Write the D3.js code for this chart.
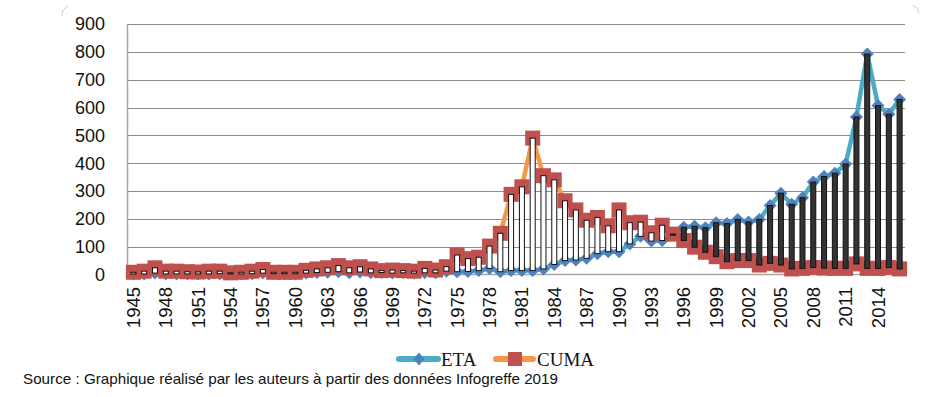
<!DOCTYPE html>
<html>
<head>
<meta charset="utf-8">
<script src="https://cdn.jsdelivr.net/npm/d3@7"></script>
<style>
  body { margin: 0; background: #fff; }
  text { font-family: "Liberation Sans", Arial, sans-serif; }
  text.serif { font-family: "Liberation Serif", "Times New Roman", serif; }
</style>
</head>
<body>
<div id="chart"></div>
<script>
// years 1945 .. 2016
const years = d3.range(1945, 2017)

const eta = [2, 2, 5, 2, 2, 2, 2, 2, 3, 2, 2, 3, 5, 3, 3, 3,
  5, 7, 8, 10, 6, 9, 6, 7, 5, 6, 5, 6, 6, 12,
  10, 11, 14, 22, 10, 14, 14, 14, 20, 36, 50, 52, 58, 75, 82, 82,
  110, 137, 120, 122, 142, 170, 173, 168, 186, 183, 198, 189, 198, 248,
  292, 252, 276, 332, 352, 364, 397, 566, 792, 607, 576, 629]

const cuma = [8, 12, 24, 12, 12, 10, 9, 12, 12, 6, 8, 12, 18, 8, 8, 8,
  15, 20, 24, 32, 24, 28, 20, 14, 16, 14, 12, 22, 16, 28,
  70, 57, 62, 102, 148, 288, 315, 490, 355, 340, 265, 232, 195, 205, 175, 232,
  186, 188, 150, 177, 145, 122, 98, 80, 64, 46, 50, 50, 34, 40,
  34, 20, 22, 25, 23, 22, 22, 38, 22, 22, 25, 20]

const yTicks = d3.range(0, 1000, 100)
const xLabels = years.filter((d, i) => i % 3 === 0)

const width = 935, height = 397

const svg = d3.select("#chart")
  .append("svg")
    .attr("width", width)
    .attr("height", height)

const x = d3.scaleBand()
  .domain(years)
  .range([128, 905])

const y = d3.scaleLinear()
  .domain([0, 900])
  .range([274.5, 24])

const cx = d => x(d) + x.bandwidth() / 2

// little rounded corners of the chart frame
svg.append("path")
  .attr("d", "M62,16 Q62,9 68,6")
  .attr("fill", "none").attr("stroke", "#ccc")
svg.append("path")
  .attr("d", "M913,5 Q918,7 919,13")
  .attr("fill", "none").attr("stroke", "#ccc")

// gridlines
svg.append("g")
  .selectAll("line")
  .data(yTicks.slice(1))
  .enter()
  .append("line")
    .attr("x1", 127).attr("x2", 905)
    .attr("y1", d => Math.round(y(d)) + 0.5)
    .attr("y2", d => Math.round(y(d)) + 0.5)
    .attr("stroke", "#8c8c8c")

// axes lines
svg.append("line")
  .attr("x1", 127.5).attr("x2", 127.5)
  .attr("y1", y(900)).attr("y2", y(0))
  .attr("stroke", "#a6a6a6").attr("stroke-width", 1.5)
svg.append("line")
  .attr("x1", 127).attr("x2", 905)
  .attr("y1", y(0)).attr("y2", y(0))
  .attr("stroke", "#a6a6a6").attr("stroke-width", 1.5)

// y labels
svg.append("g")
  .selectAll("text")
  .data(yTicks)
  .enter()
  .append("text")
    .attr("x", 105)
    .attr("y", d => y(d))
    .attr("dy", "0.36em")
    .attr("text-anchor", "end")
    .attr("font-size", 18)
    .attr("fill", "#111")
    .text(d => d)

// x labels
svg.append("g")
  .selectAll("text")
  .data(xLabels)
  .enter()
  .append("text")
    .attr("transform", d => "translate(" + (cx(d) + 6.5) + ",287) rotate(-90)")
    .attr("text-anchor", "end")
    .attr("font-size", 18.5)
    .attr("fill", "#111")
    .text(d => d)

const line = d3.line()
  .x((d, i) => cx(years[i]))
  .y(d => y(d))

// ETA series
svg.append("path")
  .datum(eta)
  .attr("d", line)
  .attr("fill", "none")
  .attr("stroke", "#4BACC6")
  .attr("stroke-width", 4.5)
  .attr("stroke-linejoin", "round")

svg.append("g")
  .selectAll("path")
  .data(eta)
  .enter()
  .append("path")
    .attr("transform", (d, i) => "translate(" + cx(years[i]) + "," + y(d) + ")")
    .attr("d", "M0,-6.5L6.5,0L0,6.5L-6.5,0Z")
    .attr("fill", "#4F81BD")

// CUMA series
svg.append("path")
  .datum(cuma)
  .attr("d", line)
  .attr("fill", "none")
  .attr("stroke", "#F79646")
  .attr("stroke-width", 4.5)
  .attr("stroke-linejoin", "round")

svg.append("g")
  .selectAll("rect")
  .data(cuma)
  .enter()
  .append("rect")
    .attr("x", (d, i) => cx(years[i]) - 7.5)
    .attr("y", d => y(d) - 7.5)
    .attr("width", 15)
    .attr("height", 15)
    .attr("fill", "#C0504D")

// up / down bars between ETA and CUMA
svg.append("g")
  .selectAll("rect")
  .data(years)
  .enter()
  .append("rect")
    .attr("x", d => cx(d) - 2.5)
    .attr("y", (d, i) => y(Math.max(eta[i], cuma[i])))
    .attr("width", 5)
    .attr("height", (d, i) => Math.max(1, Math.abs(y(eta[i]) - y(cuma[i]))))
    .attr("fill", (d, i) => cuma[i] >= eta[i] ? "#fff" : "#333")
    .attr("stroke", "#111")
    .attr("stroke-width", 1)

// legend
const legend = svg.append("g")
legend.append("line")
  .attr("x1", 399).attr("x2", 438).attr("y1", 359).attr("y2", 359)
  .attr("stroke", "#4BACC6").attr("stroke-width", 6).attr("stroke-linecap", "round")
legend.append("path")
  .attr("transform", "translate(419,359)")
  .attr("d", "M0,-6.5L5.5,0L0,6.5L-5.5,0Z")
  .attr("fill", "#4F81BD")
legend.append("text")
  .attr("class", "serif")
  .attr("x", 441).attr("y", 366)
  .attr("font-size", 19)
  .attr("fill", "#111")
  .text("ETA")
legend.append("line")
  .attr("x1", 496).attr("x2", 533).attr("y1", 359).attr("y2", 359)
  .attr("stroke", "#F79646").attr("stroke-width", 6).attr("stroke-linecap", "round")
legend.append("rect")
  .attr("x", 508).attr("y", 352).attr("width", 14).attr("height", 14)
  .attr("fill", "#C0504D")
legend.append("text")
  .attr("class", "serif")
  .attr("x", 537).attr("y", 366)
  .attr("font-size", 19)
  .attr("fill", "#111")
  .text("CUMA")

// source note
svg.append("text")
  .attr("x", 23).attr("y", 384)
  .attr("font-size", 15)
  .attr("fill", "#111")
  .attr("textLength", 535)
  .attr("lengthAdjust", "spacingAndGlyphs")
  .text("Source : Graphique réalisé par les auteurs à partir des données Infogreffe 2019")
</script>
</body>
</html>
